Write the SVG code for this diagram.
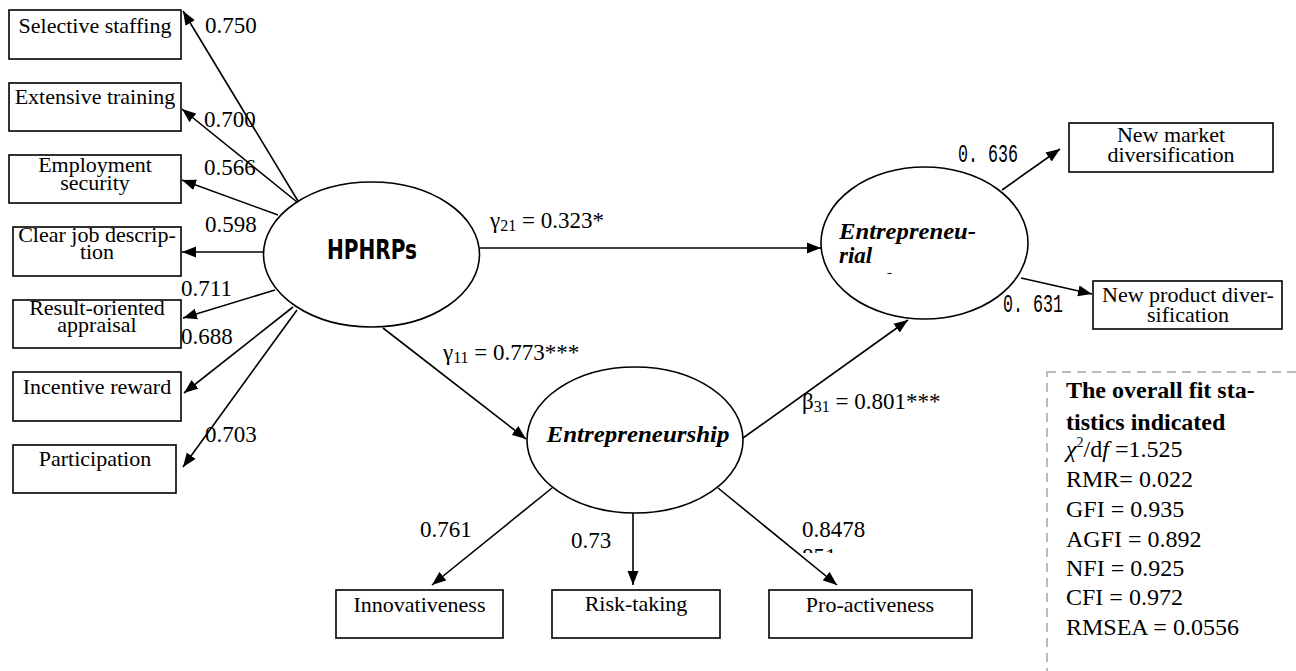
<svg xmlns="http://www.w3.org/2000/svg" width="1296" height="671" viewBox="0 0 1296 671">
<defs>
<marker id="arr" markerUnits="userSpaceOnUse" markerWidth="15" markerHeight="12" refX="14" refY="6" orient="auto">
<path d="M0,0.5 L14,6 L0,11.5 z" fill="#000"/>
</marker>
<clipPath id="clipF"><rect x="870" y="262" width="40" height="12"/></clipPath>
<clipPath id="clip851"><rect x="795" y="540" width="50" height="13"/></clipPath>
</defs>
<style>
.box{fill:#fff;stroke:#000;stroke-width:1.6}
.ell{fill:#fff;stroke:#000;stroke-width:1.6}
.lbl{font-family:"Liberation Serif","Times New Roman",serif;font-size:22px;fill:#000}
.mid{text-anchor:middle}
.num{font-family:"Liberation Serif","Times New Roman",serif;font-size:23px;fill:#000}
.mono{font-family:"Liberation Mono","Courier New",monospace;font-size:20px;fill:#000}
.lat{font-family:"Liberation Serif","Times New Roman",serif;font-size:23px;font-weight:bold;font-style:italic;fill:#000}
.coef{font-family:"Liberation Serif","Times New Roman",serif;font-size:23px;fill:#000}
.sub{font-size:16px}
.con{stroke:#000;stroke-width:1.6;fill:none;marker-end:url(#arr)}
.stat{font-family:"Liberation Serif","Times New Roman",serif;font-size:24px;fill:#000}
.statb{font-family:"Liberation Serif","Times New Roman",serif;font-size:24px;font-weight:bold;fill:#000}
</style>
<rect width="1296" height="671" fill="#fff"/>

<g id="connectors">
<path class="con" d="M298,201 L183,11"/>
<path class="con" d="M297,202 L182,109"/>
<path class="con" d="M278,215 L182,180"/>
<path class="con" d="M263,252 L182,252"/>
<path class="con" d="M275,290 L183,318"/>
<path class="con" d="M293,307 L184,393"/>
<path class="con" d="M297,310 L183,467"/>
<path class="con" d="M480,248 L821,248"/>
<path class="con" d="M383,328 L526,439"/>
<path class="con" d="M743,438 L908,320"/>
<path class="con" d="M1002,190 L1060,149"/>
<path class="con" d="M1021,278 L1092,294"/>
<path class="con" d="M552,488 L432,585"/>
<path class="con" d="M633,513 L633,585"/>
<path class="con" d="M718,488 L837,585"/>
</g>

<g id="loadings">
<text class="num" x="205" y="33">0.750</text>
<text class="num" x="204" y="127">0.700</text>
<text class="num" x="204" y="175">0.566</text>
<text class="num" x="205" y="232">0.598</text>
<text class="num" x="181" y="296">0.711</text>
<text class="num" x="181" y="344">0.688</text>
<text class="num" x="205" y="442">0.703</text>
<text class="num" x="420" y="537">0.761</text>
<text class="num" x="571" y="548">0.73</text>
<text class="num" x="802" y="537">0.8478</text>
<text class="num" x="802" y="564" clip-path="url(#clip851)">851</text>
<text class="mono" transform="translate(958,162) scale(1,1.3)" textLength="60" lengthAdjust="spacingAndGlyphs">0. 636</text>
<text class="mono" transform="translate(1003,312) scale(1,1.3)" textLength="60" lengthAdjust="spacingAndGlyphs">0. 631</text>
<text class="coef" x="490" y="228">γ<tspan class="sub" dy="3">21</tspan><tspan dy="-3"> = 0.323*</tspan></text>
<text class="coef" x="443" y="360">γ<tspan class="sub" dy="3">11</tspan><tspan dy="-3"> = 0.773***</tspan></text>
<text class="coef" x="802" y="409">β<tspan class="sub" dy="3">31</tspan><tspan dy="-3"> = 0.801***</tspan></text>
</g>

<g id="n-selective">
<rect class="box" x="9" y="10" width="172" height="49"/>
<text class="lbl mid" x="95" y="33">Selective staffing</text>
</g>
<g id="n-extensive">
<rect class="box" x="9" y="83" width="172" height="48"/>
<text class="lbl mid" x="95" y="104">Extensive training</text>
</g>
<g id="n-employment">
<rect class="box" x="9" y="155" width="172" height="48"/>
<text class="lbl mid" x="95" y="172">Employment</text>
<text class="lbl mid" x="95" y="190">security</text>
</g>
<g id="n-clearjob">
<rect class="box" x="13" y="227" width="168" height="49"/>
<text class="lbl mid" x="97" y="242">Clear job descrip-</text>
<text class="lbl mid" x="97" y="259">tion</text>
</g>
<g id="n-result">
<rect class="box" x="13" y="300" width="168" height="48"/>
<text class="lbl mid" x="97" y="315">Result-oriented</text>
<text class="lbl mid" x="97" y="332">appraisal</text>
</g>
<g id="n-incentive">
<rect class="box" x="13" y="372" width="168" height="49"/>
<text class="lbl mid" x="97" y="394">Incentive reward</text>
</g>
<g id="n-participation">
<rect class="box" x="13" y="445" width="163" height="48"/>
<text class="lbl mid" x="95" y="466">Participation</text>
</g>

<g id="n-hphrps">
<ellipse class="ell" cx="371.5" cy="254.5" rx="108" ry="72.5"/>
<text x="372" y="259" text-anchor="middle" font-family="'DejaVu Sans Condensed','DejaVu Sans',sans-serif" font-weight="bold" font-size="27" textLength="90" lengthAdjust="spacingAndGlyphs">HPHRPs</text>
</g>

<g id="n-entrepreneurial">
<ellipse class="ell" cx="924.5" cy="243" rx="103.5" ry="76"/>
<text class="lat" x="839" y="239" textLength="137" lengthAdjust="spacingAndGlyphs">Entrepreneu-</text>
<text class="lat" x="839" y="263">rial</text>
<text class="lat" x="882" y="289" clip-path="url(#clipF)">f</text>
</g>

<g id="n-entrepreneurship">
<ellipse class="ell" cx="635" cy="440" rx="108" ry="73"/>
<text class="lat mid" x="638" y="442" textLength="183" lengthAdjust="spacingAndGlyphs">Entrepreneurship</text>
</g>

<g id="n-newmarket">
<rect class="box" x="1069" y="123" width="204" height="49"/>
<text class="lbl mid" x="1171" y="142">New market</text>
<text class="lbl mid" x="1171" y="162">diversification</text>
</g>
<g id="n-newproduct">
<rect class="box" x="1093" y="281" width="189" height="48"/>
<text class="lbl mid" x="1188" y="302">New product diver-</text>
<text class="lbl mid" x="1188" y="322">sification</text>
</g>

<g id="n-innovativeness">
<rect class="box" x="336" y="590" width="167" height="48"/>
<text class="lbl mid" x="419.5" y="612">Innovativeness</text>
</g>
<g id="n-risktaking">
<rect class="box" x="552" y="590" width="168" height="48"/>
<text class="lbl mid" x="636" y="611">Risk-taking</text>
</g>
<g id="n-proactiveness">
<rect class="box" x="769" y="590" width="203" height="48"/>
<text class="lbl mid" x="870" y="612">Pro-activeness</text>
</g>

<g id="fit-stats">
<rect x="1047" y="372" width="300" height="400" fill="none" stroke="#bbb" stroke-width="2" stroke-dasharray="9,6"/>
<text class="statb" x="1066" y="398">The overall fit sta-</text>
<text class="statb" x="1066" y="430">tistics indicated</text>
<text class="stat" x="1066" y="457"><tspan font-style="italic">χ</tspan><tspan font-size="14" dy="-10">2</tspan><tspan dy="10">/d</tspan><tspan font-style="italic">f</tspan> =1.525</text>
<text class="stat" x="1066" y="487">RMR= 0.022</text>
<text class="stat" x="1066" y="517">GFI = 0.935</text>
<text class="stat" x="1066" y="547">AGFI = 0.892</text>
<text class="stat" x="1066" y="576">NFI = 0.925</text>
<text class="stat" x="1066" y="605">CFI = 0.972</text>
<text class="stat" x="1066" y="635">RMSEA = 0.0556</text>
</g>
</svg>
